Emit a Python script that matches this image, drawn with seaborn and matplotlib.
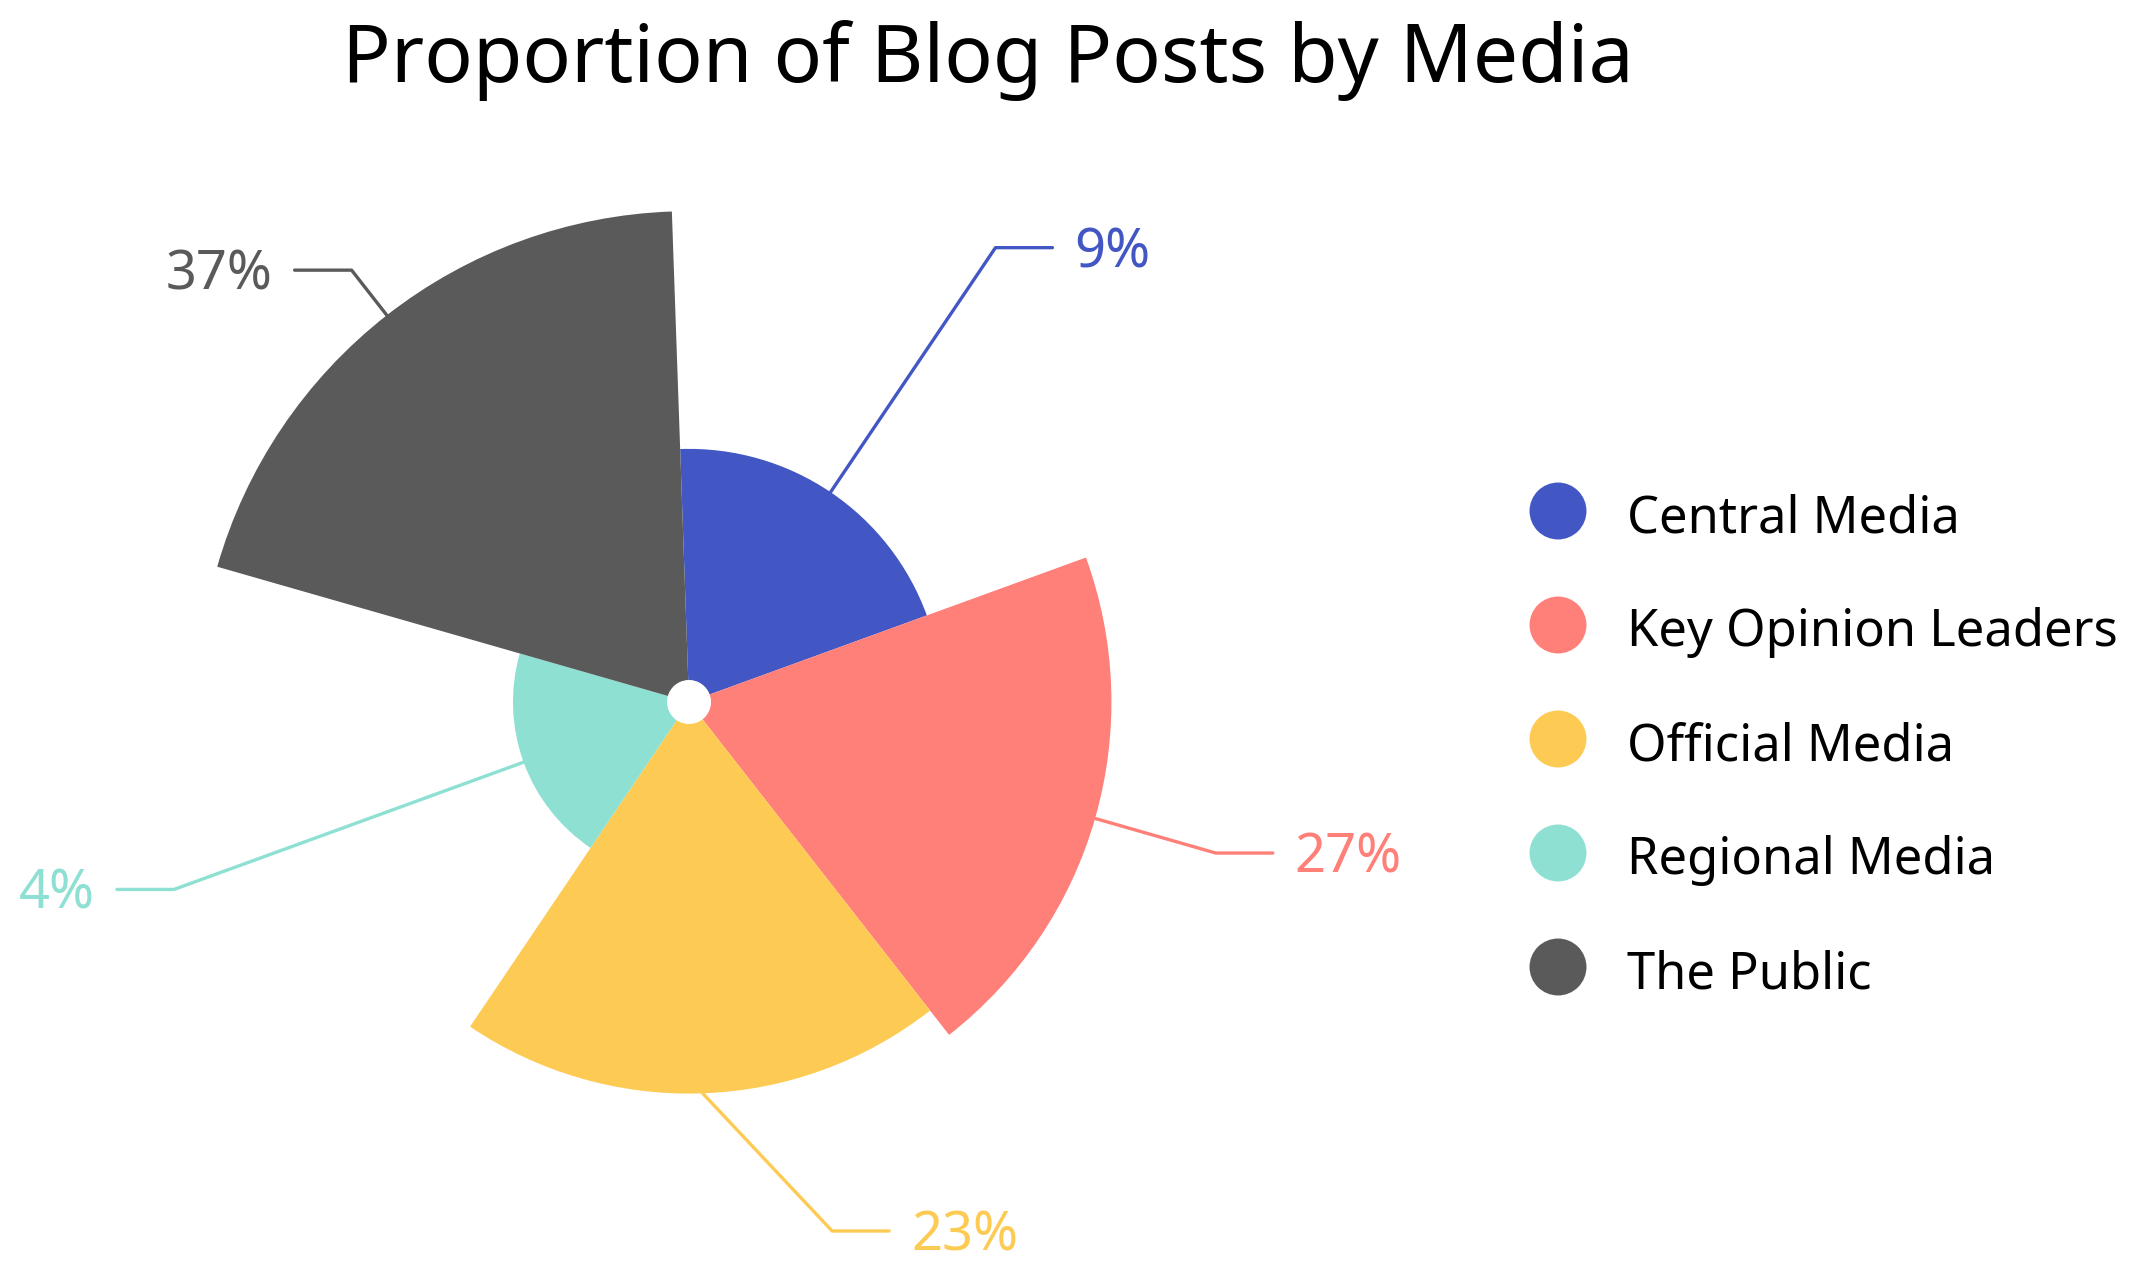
import numpy as np
import matplotlib
matplotlib.use("Agg")
import matplotlib.pyplot as plt
import seaborn as sns

media = ["Central Media", "Key Opinion Leaders", "Official Media", "Regional Media", "The Public"]
share = [9, 27, 23, 4, 37]
colors = ["#4357C4", "#FF7F79", "#FDCB53", "#8DE0D2", "#5A5A5A"]

sns.set_theme(style="white")
plt.rcParams["font.family"] = ["Noto Sans", "DejaVu Sans"]

W, H, DPI = 2130, 1271, 100
fig = plt.figure(figsize=(W / DPI, H / DPI), dpi=DPI)

# rose chart: equal angles, radius grows with sqrt of the share
cx, cy = 689, H - 702
rmax, r0 = 6.5, 0.283
rpx = 77.1 * (rmax + r0)
ax = fig.add_axes([(cx - rpx) / W, (cy - rpx) / H, 2 * rpx / W, 2 * rpx / H], projection="polar")
ax.set_theta_offset(np.radians(92))
ax.set_theta_direction(-1)
ax.set_ylim(0, rmax)
ax.set_rorigin(-r0)
ax.axis("off")

n = len(media)
step = 2 * np.pi / n
theta = np.arange(n) * step
radius = np.sqrt(share)
ax.bar(theta, radius, width=step, align="edge", color=colors, linewidth=0)

# overlay in pixel units for labels and legend
ov = fig.add_axes([0, 0, 1, 1])
ov.set_xlim(0, W)
ov.set_ylim(0, H)
ov.axis("off")

center = ax.transAxes.transform((0.5, 0.5))
label_r = 6.825
for i in range(n):
    mid = theta[i] + step / 2
    p0 = ax.transData.transform((mid, radius[i]))
    pe = ax.transData.transform((mid, label_r))
    R = np.hypot(*(pe - center))
    side = 1 if pe[0] >= center[0] else -1
    ey = max(pe[1], 40)
    ex = center[0] + side * np.sqrt(R ** 2 - (ey - center[1]) ** 2)
    x2 = ex + side * 57
    ov.plot([p0[0], ex, x2], [p0[1], ey, ey], color=colors[i], lw=2.4)
    ov.text(x2 + side * 22, ey - 5, f"{share[i]}%", color=colors[i], fontsize=39,
            ha="left" if side > 0 else "right", va="center")

# legend
leg_y = H - (511 + 114 * np.arange(n))
sns.scatterplot(x=[1558] * n, y=leg_y, hue=media, palette=colors, s=41 ** 2,
                linewidth=0, legend=False, ax=ov)
ov.set_xlim(0, W)
ov.set_ylim(0, H)
for i in range(n):
    ov.text(1627, leg_y[i] - 8, media[i], fontsize=36.5, color="black", ha="left", va="center")

fig.text(988 / W, (H - 82) / H, "Proportion of Blog Posts by Media", fontsize=58,
         ha="center", va="baseline", color="black")

fig.savefig("out.png", dpi=DPI, facecolor="white")
